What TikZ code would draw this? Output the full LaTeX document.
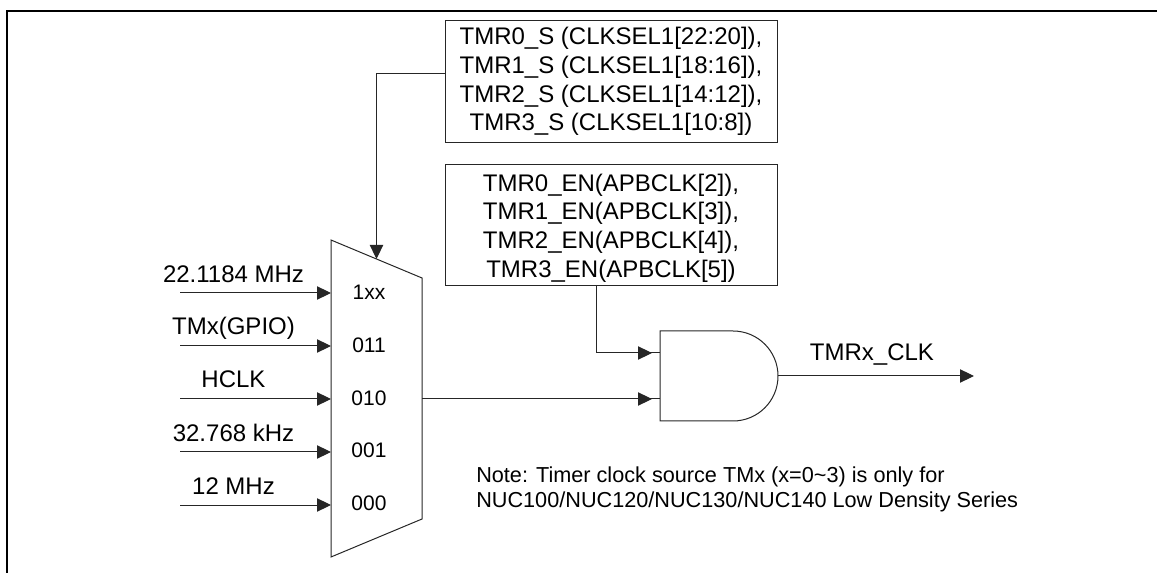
\documentclass[tikz,border=0pt]{standalone}
\usepackage{fontspec}
\setmainfont{Liberation Sans}
\usetikzlibrary{arrows.meta,decorations.markings,calc}
\definecolor{wire}{gray}{0.15}
\tikzset{
  x=0.75pt,y=-0.75pt,
  wirel/.style={draw=wire,line width=0.75pt},
  inarrow/.style={wirel,-{Triangle[length=10.5pt,width=10pt]}},
  gatearrow/.style={wirel,postaction={decorate},decoration={markings,mark=at position -6pt with {\arrow{Triangle[length=10.5pt,width=10pt]}}}},
  frameline/.style={draw=black,line width=1.6pt},
  labelbox/.style={draw=wire,line width=0.75pt,align=center,inner sep=0pt,font=\fontsize{18}{21.6}\selectfont},
  siglabel/.style={anchor=base,inner sep=0pt,font=\fontsize{18}{20}\selectfont},
  portlabel/.style={anchor=base,inner sep=0pt,font=\fontsize{15.75}{18}\selectfont},
  notetext/.style={anchor=base west,inner sep=0pt,font=\fontsize{16.25}{18}\selectfont},
}
\begin{document}
\begin{tikzpicture}
\useasboundingbox (0,0) rectangle (1157,573);
% frame
\draw[frameline] (7,573) -- (7,11) -- (1157,11);
% boxes
\node[labelbox,minimum width=249pt,minimum height=91pt] (box1) at (611,81.5)
  {TMR0\_S (CLKSEL1[22:20]),\\TMR1\_S (CLKSEL1[18:16]),\\TMR2\_S (CLKSEL1[14:12]),\\TMR3\_S (CLKSEL1[10:8])};
\node[labelbox,minimum width=249pt,minimum height=90.5pt] (box2) at (611,225)
  {\rule{0pt}{17.6pt}TMR0\_EN(APBCLK[2]),\\TMR1\_EN(APBCLK[3]),\\TMR2\_EN(APBCLK[4]),\\TMR3\_EN(APBCLK[5])};
% mux
\coordinate (muxa) at (331,240);
\coordinate (muxb) at (422,278);
\coordinate (muxc) at (422,519);
\coordinate (muxd) at (331,557);
\draw[wirel] (muxa) -- (muxb) -- (muxc) -- (muxd) -- cycle;
\coordinate (muxtop) at (376.5,259);
\coordinate (boxtap) at (445,74);
\draw[inarrow] (boxtap) -- (376.5,74) -- (muxtop);
% inputs
\foreach \n/\yy/\lab/\by/\pl/\pb in {
  i1/293/22.1184 MHz/283/1xx/299.5,
  i2/346/TMx(GPIO)/335/011/352.5,
  i3/399/HCLK/388/010/405.5,
  i4/452/32.768 kHz/441.5/001/458,
  i5/505/12 MHz/494/000/511}{
  \coordinate (\n s) at (180,\yy);
  \coordinate (\n e) at (331,\yy);
  \draw[inarrow] (\n s) -- (\n e);
  \node[siglabel] (\n l) at (233.5,\by) {\lab};
  \node[portlabel] (\n p) at (369,\pb) {\pl};
}
% AND gate
\coordinate (anda) at (660,331);
\coordinate (andb) at (660,421);
\coordinate (andr) at (778,376);
\coordinate (andp) at (660,353);
\coordinate (andq) at (660,399);
\draw[wirel] (anda) -- (733,331) arc[start angle=-90,end angle=90,x radius=45,y radius=45] -- (andb) -- cycle;
\coordinate (muxout) at (422,399);
\draw[gatearrow] (muxout) -- (andq);
\coordinate (box2tap) at (596,285);
\draw[gatearrow] (box2tap) -- (596,353) -- (andp);
% output
\coordinate (outend) at (974,376);
\draw[inarrow] (andr) -- (outend);
\node[siglabel] (outl) at (872,360.7) {TMRx\_CLK};
% note
\node[notetext] (n1) at (476,483) {Note: Timer clock source TMx (x=0\textasciitilde 3) is only for};
\node[notetext] (n2) at (476,508) {NUC100/NUC120/NUC130/NUC140 Low Density Series};
\end{tikzpicture}
\end{document}
